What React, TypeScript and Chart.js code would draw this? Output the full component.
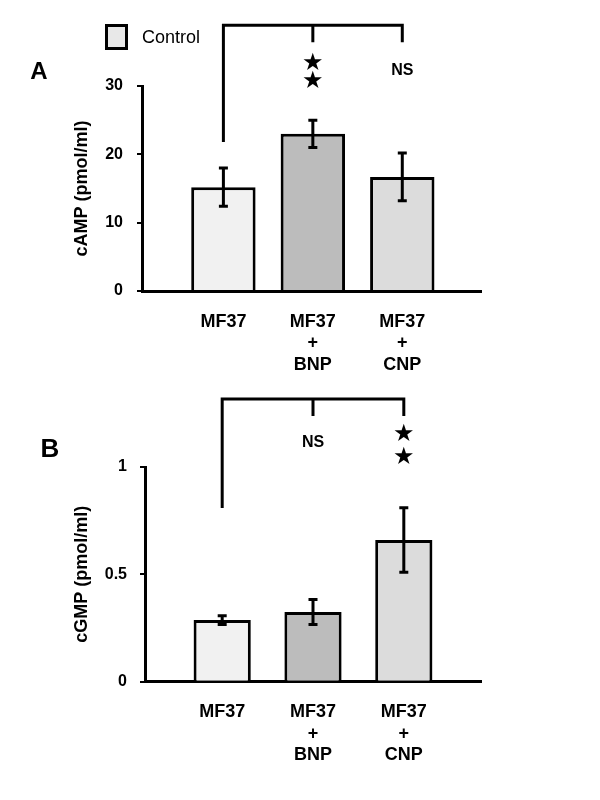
import React, { useEffect, useRef } from 'react';
import { Chart, registerables } from 'chart.js';

Chart.register(...registerables);

// ---- data ----
const categories: string[][] = [['MF37'], ['MF37', '+', 'BNP'], ['MF37', '+', 'CNP']];
const campValues = [15.2, 23.0, 16.7];
const campErrors = [2.8, 2.0, 3.5];
const cgmpValues = [0.287, 0.325, 0.66];
const cgmpErrors = [0.02, 0.058, 0.15];
const campTicks = [0, 10, 20, 30];
const cgmpTicks = [0, 0.5, 1];
const campSignif = ['', 'stars', 'NS'];
const cgmpSignif = ['', 'NS', 'stars'];
const barColors = ['#f1f1f1', '#bcbcbc', '#dcdcdc'];

const FONT = '"Liberation Sans", Arial, sans-serif';

type PanelOpts = {
  letter: string;
  letterX: number;
  letterY: number;
  letterSize: number;
  showLegend: boolean;
  values: number[];
  errors: number[];
  ticks: number[];
  signif: string[];
  title: string;
  canvasH: number;
  yAxisW: number;
  xAxisH: number;
  padTop: number;
  padRight: number;
  xMin: number;
  xMax: number;
  barPct: number;
  tickFont: number;
  tickPad: number;
  bracketTop: number;
  leftArmBottom: number;
  tickBottom: number;
  nsY: number;
  starY1: number;
  starY2: number;
};

const errorBarPlugin = {
  id: 'errorBars',
  afterDatasetsDraw(chart: any, _args: any, opts: any) {
    const { ctx } = chart;
    const xs = chart.scales.x;
    const ys = chart.scales.y;
    const values: number[] = opts.values;
    const errors: number[] = opts.errors;
    ctx.save();
    ctx.strokeStyle = '#000';
    ctx.lineWidth = 3;
    ctx.lineCap = 'butt';
    values.forEach((v, i) => {
      const x = xs.getPixelForValue(i);
      const y1 = ys.getPixelForValue(v + errors[i]);
      const y2 = ys.getPixelForValue(v - errors[i]);
      ctx.beginPath();
      ctx.moveTo(x, y1);
      ctx.lineTo(x, y2);
      ctx.moveTo(x - 4.5, y1);
      ctx.lineTo(x + 4.5, y1);
      ctx.moveTo(x - 4.5, y2);
      ctx.lineTo(x + 4.5, y2);
      ctx.stroke();
    });
    ctx.restore();
  },
};

const annotPlugin = {
  id: 'annot',
  afterDraw(chart: any, _args: any, o: any) {
    const { ctx } = chart;
    const xs = chart.scales.x;
    const ys = chart.scales.y;
    const px = (i: number) => xs.getPixelForValue(i);
    const py = (v: number) => ys.getPixelForValue(v);
    ctx.save();
    ctx.strokeStyle = '#000';
    ctx.fillStyle = '#000';
    ctx.lineWidth = 3;
    ctx.lineJoin = 'miter';
    const yTop = py(o.bracketTop);
    ctx.beginPath();
    ctx.moveTo(px(0), py(o.leftArmBottom));
    ctx.lineTo(px(0), yTop);
    ctx.lineTo(px(2), yTop);
    ctx.lineTo(px(2), py(o.tickBottom));
    ctx.moveTo(px(1), yTop);
    ctx.lineTo(px(1), py(o.tickBottom));
    ctx.stroke();

    ctx.textAlign = 'center';
    ctx.textBaseline = 'middle';
    (o.signif as string[]).forEach((s, i) => {
      if (s === 'NS') {
        ctx.font = `bold 16px ${FONT}`;
        ctx.fillText('NS', px(i), py(o.nsY));
      } else if (s === 'stars') {
        ctx.font = `24px "DejaVu Sans"`;
        ctx.fillText('★', px(i), py(o.starY1));
        ctx.fillText('★', px(i), py(o.starY2));
      }
    });

    // panel letter
    ctx.font = `bold ${o.letterSize}px ${FONT}`;
    ctx.fillText(o.letter, o.letterX, o.letterY);

    if (o.showLegend) {
      ctx.fillStyle = '#e8e8e8';
      ctx.fillRect(106.5, 25.5, 20, 23);
      ctx.strokeRect(106.5, 25.5, 20, 23);
      ctx.fillStyle = '#000';
      ctx.textAlign = 'left';
      ctx.font = `18px ${FONT}`;
      ctx.fillText('Control', 142, 38);
    }
    ctx.restore();
  },
};

function makeConfig(p: PanelOpts): any {
  return {
    type: 'bar',
    data: {
      datasets: [
        {
          data: p.values.map((v, i) => ({ x: i, y: v })),
          backgroundColor: barColors,
          borderColor: '#000',
          borderWidth: 3,
          borderSkipped: 'start',
          categoryPercentage: 1,
          barPercentage: p.barPct,
        },
      ],
    },
    options: {
      responsive: false,
      animation: false,
      events: [],
      layout: { padding: { top: p.padTop, right: p.padRight, left: 0, bottom: 0 } },
      plugins: {
        legend: { display: false },
        tooltip: { enabled: false },
        errorBars: { values: p.values, errors: p.errors },
        annot: {
          signif: p.signif,
          bracketTop: p.bracketTop,
          leftArmBottom: p.leftArmBottom,
          tickBottom: p.tickBottom,
          nsY: p.nsY,
          starY1: p.starY1,
          starY2: p.starY2,
          letter: p.letter,
          letterX: p.letterX,
          letterY: p.letterY,
          letterSize: p.letterSize,
          showLegend: p.showLegend,
        },
      },
      scales: {
        x: {
          type: 'linear',
          min: p.xMin,
          max: p.xMax,
          offset: false,
          afterBuildTicks: (axis: any) => {
            axis.ticks = categories.map((_, i) => ({ value: i }));
          },
          afterFit: (scale: any) => {
            scale.height = p.xAxisH;
          },
          grid: { display: false, drawTicks: false },
          border: { display: true, color: '#000', width: 3 },
          ticks: {
            autoSkip: false,
            maxRotation: 0,
            minRotation: 0,
            padding: 20,
            color: '#000',
            font: { family: FONT, size: 18, weight: 'bold', lineHeight: 1.19 },
            callback: (value: number) => categories[Math.round(value)] ?? '',
          },
        },
        y: {
          type: 'linear',
          min: p.ticks[0],
          max: p.ticks[p.ticks.length - 1],
          afterBuildTicks: (axis: any) => {
            axis.ticks = p.ticks.map((v) => ({ value: v }));
          },
          afterFit: (scale: any) => {
            scale.width = p.yAxisW;
          },
          grid: {
            display: true,
            drawOnChartArea: false,
            drawTicks: true,
            tickLength: 5,
            color: '#000',
            lineWidth: 2,
          },
          border: { display: true, color: '#000', width: 3 },
          ticks: {
            padding: p.tickPad,
            color: '#000',
            font: { family: FONT, size: p.tickFont, weight: 'bold' },
            callback: (v: number) => String(v),
          },
          title: {
            display: true,
            text: p.title,
            color: '#000',
            font: { family: FONT, size: 18, weight: 'bold', lineHeight: 1.2 },
            padding: { top: 71, bottom: 0 },
          },
        },
      },
    },
    plugins: [errorBarPlugin, annotPlugin],
  };
}

const panelA: PanelOpts = {
  letter: 'A',
  letterX: 39,
  letterY: 72,
  letterSize: 24,
  showLegend: true,
  values: campValues,
  errors: campErrors,
  ticks: campTicks,
  signif: campSignif,
  title: 'cAMP (pmol/ml)',
  canvasH: 385,
  yAxisW: 142,
  xAxisH: 94,
  padTop: 86,
  padRight: 119,
  xMin: -0.91,
  xMax: 2.88,
  barPct: 0.72,
  tickFont: 16,
  tickPad: 14,
  bracketTop: 38.9,
  leftArmBottom: 21.8,
  tickBottom: 36.4,
  nsY: 32.3,
  starY1: 33.3,
  starY2: 30.6,
};

const panelB: PanelOpts = {
  letter: 'B',
  letterX: 50,
  letterY: 65,
  letterSize: 26,
  showLegend: false,
  values: cgmpValues,
  errors: cgmpErrors,
  ticks: cgmpTicks,
  signif: cgmpSignif,
  title: 'cGMP (pmol/ml)',
  canvasH: 415,
  yAxisW: 145,
  xAxisH: 118.3,
  padTop: 82,
  padRight: 119,
  xMin: -0.85,
  xMax: 2.85,
  barPct: 0.63,
  tickFont: 16,
  tickPad: 13,
  bracketTop: 1.317,
  leftArmBottom: 0.809,
  tickBottom: 1.237,
  nsY: 1.112,
  starY1: 1.151,
  starY2: 1.045,
};

function Panel({ opts, top }: { opts: PanelOpts; top: number }) {
  const ref = useRef<HTMLCanvasElement>(null);
  useEffect(() => {
    const chart = new Chart(ref.current as HTMLCanvasElement, makeConfig(opts));
    return () => chart.destroy();
  }, []);
  return (
    <canvas
      ref={ref}
      width={600}
      height={opts.canvasH}
      style={{ position: 'absolute', left: 0, top, width: 600, height: opts.canvasH, display: 'block' }}
    />
  );
}

export default function App() {
  return (
    <div style={{ position: 'absolute', left: 0, top: 0, width: 600, height: 800, background: '#fff' }}>
      <Panel opts={panelA} top={0} />
      <Panel opts={panelB} top={385} />
    </div>
  );
}
